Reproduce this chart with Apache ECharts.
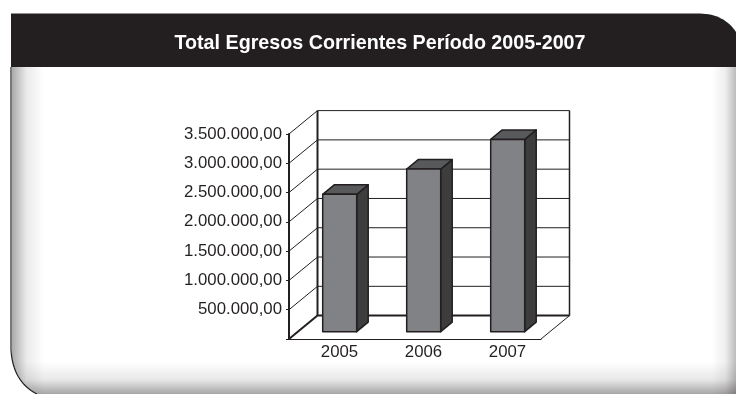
<!DOCTYPE html>
<html>
<head>
<meta charset="utf-8">
<style>
  html, body { margin: 0; padding: 0; background: #fff; }
  #chart { width: 736px; height: 394px; }
</style>
<script src="https://cdn.jsdelivr.net/npm/echarts@6/dist/echarts.min.js"></script>
</head>
<body>
<div id="chart"></div>
<script>
const titleText = 'Total Egresos Corrientes Período 2005-2007';
const years = ['2005', '2006', '2007'];
const egresos = [2345000, 2776000, 3283000];
const yTicks = [0, 500000, 1000000, 1500000, 2000000, 2500000, 3000000, 3500000];

const INK = '#231f20';
// depth of the fake 3d box and of the bars inside it
const WALL_DX = 28.5, WALL_DY = -23.4;
const BAR_X = 8.7, BAR_Y = -7.3, BAR_W = 34, BAR_DX = 11.5, BAR_DY = -9.5;

const fmt = (v) => {
  if (!v) return '';
  return v.toLocaleString('de-DE', { minimumFractionDigits: 2 });
};

function renderWall(params, api) {
  const r = params.coordSys;
  const y = api.coord([0, api.value(1)])[1];
  const x0 = r.x, x1 = r.x + WALL_DX, x2 = r.x + r.width + WALL_DX;
  const isFloor = api.value(1) === 0;
  const children = [
    { type: 'polyline', shape: { points: [[x0, y], [x1, y + WALL_DY], [x2, y + WALL_DY]] },
      style: { stroke: INK, fill: null, lineWidth: isFloor ? 2 : 1 } },
  ];
  if (isFloor) {
    children.push({ type: 'line', shape: { x1: x2, y1: r.y + WALL_DY, x2: x2, y2: y + WALL_DY }, style: { stroke: INK, lineWidth: 1.5 } });
    children.push({ type: 'line', shape: { x1: x1, y1: r.y + WALL_DY, x2: x1, y2: y + WALL_DY }, style: { stroke: INK, lineWidth: 2 } });
    children.push({ type: 'line', shape: { x1: x2, y1: y + WALL_DY, x2: x2 - WALL_DX, y2: y }, style: { stroke: INK, lineWidth: 1 } });
  }
  return { type: 'group', children };
}

function renderBar(params, api) {
  const top = api.coord([api.value(0), api.value(1)]);
  const base = api.coord([api.value(0), 0]);
  const l = top[0] + BAR_X - BAR_W / 2, r = l + BAR_W;
  const t = top[1] + BAR_Y, b = base[1] + BAR_Y;
  const line = { stroke: INK, lineWidth: 1.5, lineJoin: 'round' };
  return {
    type: 'group',
    children: [
      { type: 'polygon', shape: { points: [[r, t], [r + BAR_DX, t + BAR_DY], [r + BAR_DX, b + BAR_DY], [r, b]] }, style: { fill: '#3d3d3e', ...line } },
      { type: 'polygon', shape: { points: [[l, t], [l + BAR_DX, t + BAR_DY], [r + BAR_DX, t + BAR_DY], [r, t]] }, style: { fill: '#58595b', ...line } },
      { type: 'rect', shape: { x: l, y: t, width: BAR_W, height: b - t }, style: { fill: '#808285', ...line } },
    ],
  };
}

// panel frame with its soft inner shade
const shade = (x, y, width, height, dir, alpha) => ({
  type: 'rect', silent: true, z: 0,
  shape: { x, y, width, height },
  style: {
    fill: {
      type: 'linear',
      x: dir === 'left' ? 1 : 0,
      y: dir === 'bottom' ? 1 : 0,
      x2: dir === 'right' ? 1 : 0,
      y2: 0,
      colorStops: [
        { offset: 0, color: `rgba(35,31,32,${alpha})` },
        { offset: 0.45, color: `rgba(35,31,32,${alpha * 0.25})` },
        { offset: 1, color: 'rgba(35,31,32,0)' },
      ],
    },
  },
});

// points along a quadratic curve, the graphic component has no free path type
const curve = (p0, c, p1) => {
  const pts = [];
  for (let i = 0; i <= 16; i++) {
    const t = i / 16, u = 1 - t;
    pts.push([u * u * p0[0] + 2 * u * t * c[0] + t * t * p1[0], u * u * p0[1] + 2 * u * t * c[1] + t * t * p1[1]]);
  }
  return pts;
};
const cornerBL = curve([11, 350], [13, 382], [37, 394]);
const cornerTR = curve([700, 13.5], [724, 14], [736, 32]);

const panel = [
  shade(12, 67, 32, 327, 'right', 0.38),
  shade(712, 67, 24, 327, 'left', 0.3),
  shade(12, 362, 724, 32, 'bottom', 0.4),
  { type: 'polygon', silent: true, z: 1,
    shape: { points: [[0, 0], [11, 0], ...cornerBL, [0, 394]] },
    style: { fill: '#fff' } },
  { type: 'polyline', silent: true, z: 1,
    shape: { points: [[11, 67], ...cornerBL] },
    style: { fill: null, stroke: INK, lineWidth: 1.2 } },
  { type: 'polygon', silent: true, z: 2,
    shape: { points: [[11, 13.5], ...cornerTR, [736, 67], [11, 67]] },
    style: { fill: INK } },
];

const chart = echarts.init(document.getElementById('chart'));
chart.setOption({
  animation: false,
  backgroundColor: '#fff',
  textStyle: { fontFamily: '"Liberation Sans", Arial, sans-serif' },
  title: {
    text: titleText,
    left: 375,
    top: 29,
    textAlign: 'center',
    textStyle: { color: '#fff', fontSize: 19.7, fontWeight: 'bold', fontFamily: '"Liberation Sans", Arial, sans-serif' },
    z: 5,
  },
  graphic: panel,
  grid: { left: 289, top: 134, width: 252, height: 205 },
  xAxis: {
    type: 'category',
    data: years,
    axisLine: { lineStyle: { color: INK, width: 1 } },
    axisTick: { alignWithLabel: false, length: 5, lineStyle: { color: INK } },
    axisLabel: { color: INK, fontSize: 16.8, margin: 5, padding: [0, 0, 0, 17] },
  },
  yAxis: {
    type: 'value',
    min: 0,
    max: 3500000,
    interval: 500000,
    axisLine: { show: true, lineStyle: { color: INK, width: 2 } },
    axisTick: { show: true, length: 3, lineStyle: { color: INK } },
    splitLine: { show: false },
    axisLabel: { color: INK, fontSize: 16.8, margin: 7, padding: [4, 0, 0, 0], formatter: fmt },
  },
  series: [
    {
      name: 'wall',
      type: 'custom',
      silent: true,
      z: 1,
      clip: false,
      renderItem: renderWall,
      encode: { x: 0, y: 1 },
      data: yTicks.map((t) => [0, t]),
    },
    {
      name: 'Egresos',
      type: 'custom',
      z: 3,
      clip: false,
      renderItem: renderBar,
      encode: { x: 0, y: 1 },
      data: egresos.map((v, i) => [i, v]),
    },
  ],
});
</script>
</body>
</html>
